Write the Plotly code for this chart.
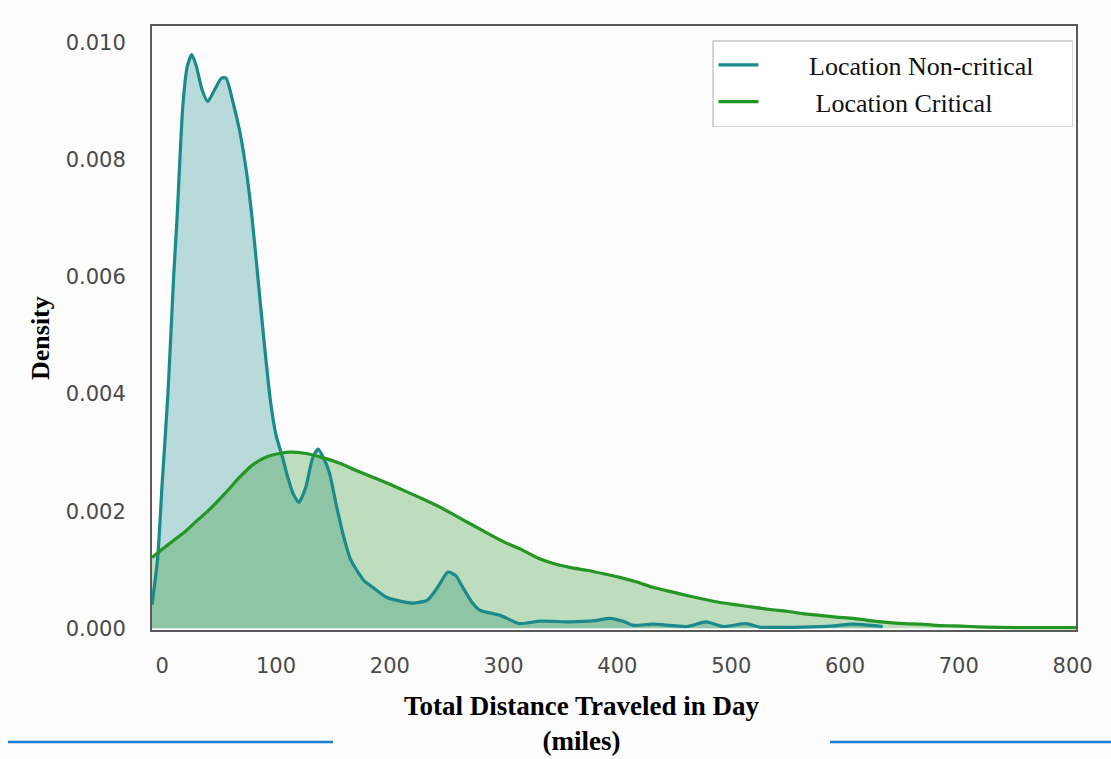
import plotly.graph_objects as go

# ---- data ----
noncrit_x = [-9, -4, 0, 5, 10, 13, 18, 22, 26, 30, 35, 40, 46, 52, 56, 62, 68, 74, 79, 85,
             90, 95, 100, 106, 110, 115, 120, 126, 132, 137, 142, 147, 153, 159, 165, 171,
             178, 185, 197, 210, 220, 233, 242, 251, 258, 264, 272, 279, 297, 314, 332, 358,
             380, 393, 405, 414, 431, 461, 478, 493, 513, 525, 563, 590, 607, 633]
noncrit_y = [0.00040, 0.0012, 0.0025, 0.0040, 0.0060, 0.0070, 0.0089, 0.0096, 0.0098, 0.0096,
             0.0092, 0.0090, 0.0092, 0.0094, 0.0094, 0.0090, 0.0085, 0.0078, 0.0070, 0.0058,
             0.0048, 0.0039, 0.0033, 0.0029, 0.0026, 0.0023, 0.00215, 0.0024, 0.0029, 0.00306,
             0.0029, 0.00265, 0.0021, 0.0016, 0.0012, 0.00099, 0.0008, 0.0007, 0.00053, 0.00046,
             0.00043, 0.00048, 0.0007, 0.00096, 0.0009, 0.0007, 0.00045, 0.00031, 0.00022,
             0.00008, 0.00012, 0.00011, 0.00013, 0.00017, 0.00012, 0.00005, 0.00007, 0.00003,
             0.00011, 0.00003, 0.00008, 0.00002, 0.00002, 0.00004, 0.00007, 0.00003]

crit_x = [-9, 0, 10, 20, 30, 40, 55, 68, 80, 92, 104, 112, 125, 140, 156, 170, 185, 200, 215,
          230, 244, 258, 273, 288, 303, 314, 330, 343, 358, 373, 388, 402, 417, 431, 446, 461,
          475, 490, 505, 519, 534, 549, 563, 578, 592, 607, 622, 637, 652, 666, 680, 695, 710,
          724, 750, 768, 803]
crit_y = [0.00121, 0.00135, 0.0015, 0.00165, 0.00183, 0.0020, 0.0023, 0.00258, 0.0028, 0.00293,
          0.00299, 0.00301, 0.00299, 0.00292, 0.00282, 0.0027, 0.00258, 0.00246, 0.00233,
          0.0022, 0.00207, 0.00192, 0.00176, 0.0016, 0.00145, 0.00136, 0.0012, 0.00111,
          0.00104, 0.00099, 0.00093, 0.00087, 0.00079, 0.0007, 0.00063, 0.00056, 0.0005,
          0.00044, 0.0004, 0.00036, 0.00032, 0.00029, 0.00025, 0.00022, 0.00019, 0.00017,
          0.00013, 0.0001, 0.00008, 0.00007, 0.00005, 0.00004, 0.00003, 0.00002, 0.00001,
          0.00001, 0.00001]

series_names = ["Location Non-critical", "Location Critical"]
x_ticks = [0, 100, 200, 300, 400, 500, 600, 700, 800]
y_ticks = [0.000, 0.002, 0.004, 0.006, 0.008, 0.010]
y_tick_text = ["0.000", "0.002", "0.004", "0.006", "0.008", "0.010"]

TEAL = "#1b8a8c"
TEAL_FILL = "rgba(27,138,140,0.30)"
GREEN = "#249624"
GREEN_FILL = "rgba(44,150,44,0.30)"

# ---- layout geometry (page pixels) ----
W, H = 1111, 759
L, R, T, B = 152, 1076, 26, 630
pw, ph = R - L, B - T


def px(xp):
    return (xp - L) / pw


def py(yp):
    return (B - yp) / ph


NB = "\u00a0"

fig = go.Figure()
# fills first
fig.add_trace(go.Scatter(x=noncrit_x, y=noncrit_y, mode="lines", fill="tozeroy",
                         fillcolor=TEAL_FILL, line=dict(width=0, shape="spline", smoothing=0.6),
                         showlegend=False, hoverinfo="skip"))
fig.add_trace(go.Scatter(x=crit_x, y=crit_y, mode="lines", fill="tozeroy",
                         fillcolor=GREEN_FILL, line=dict(width=0, shape="spline", smoothing=0.6),
                         showlegend=False, hoverinfo="skip"))
# lines on top
fig.add_trace(go.Scatter(x=noncrit_x, y=noncrit_y, mode="lines",
                         name=NB * 7 + series_names[0] + NB * 5,
                         line=dict(color=TEAL, width=3.2, shape="spline", smoothing=0.6)))
fig.add_trace(go.Scatter(x=crit_x, y=crit_y, mode="lines",
                         name=NB * 8 + series_names[1],
                         line=dict(color=GREEN, width=3.2, shape="spline", smoothing=0.6)))

axis_common = dict(showgrid=False, zeroline=False, showline=True, linecolor="#5a5a5a",
                   linewidth=2, mirror=True, ticks="",
                   tickfont=dict(family="DejaVu Sans, Arial, sans-serif", size=21,
                                 color="#4a4a4a"))

fig.update_layout(
    width=W, height=H,
    margin=dict(l=L, r=W - R, t=T, b=H - B),
    paper_bgcolor="#fcfcfc",
    plot_bgcolor="#fcfcfc",
    xaxis=dict(range=[-9, 803], tickvals=x_ticks, ticklabelstandoff=16, **axis_common),
    yaxis=dict(range=[-0.00003, 0.01029], tickvals=y_ticks, ticktext=y_tick_text,
               ticklabelstandoff=20, **axis_common),
    legend=dict(x=px(712), y=py(40), xanchor="left", yanchor="top",
                bgcolor="#ffffff", bordercolor="#d4d4d4", borderwidth=1.5,
                font=dict(family="Liberation Serif, Times New Roman, serif", size=26,
                          color="#111111"),
                itemwidth=40, tracegroupgap=6),
    showlegend=True,
)

# axis titles as annotations
fig.add_annotation(x=px(582), y=py(723), xref="paper", yref="paper",
                   text="<b>Total Distance Traveled in Day<br>(miles)</b>",
                   showarrow=False, xanchor="center", yanchor="middle",
                   font=dict(family="Liberation Serif, Times New Roman, serif", size=27,
                             color="#000000"))
fig.add_annotation(x=px(40), y=py(338), xref="paper", yref="paper",
                   text="<b>Density</b>", textangle=-90, showarrow=False,
                   xanchor="center", yanchor="middle",
                   font=dict(family="Liberation Serif, Times New Roman, serif", size=26,
                             color="#000000"))

# decorative blue separator lines at the bottom
for x0, x1 in [(8, 333), (830, 1111)]:
    fig.add_shape(type="line", xref="paper", yref="paper",
                  x0=px(x0), x1=px(x1), y0=py(742), y1=py(742),
                  line=dict(color="#1a7ed6", width=2.5))

fig.write_html("out.html",
               config={"displayModeBar": False},
               post_script="document.body.style.margin='0';"
                           "document.body.style.overflow='hidden';")
